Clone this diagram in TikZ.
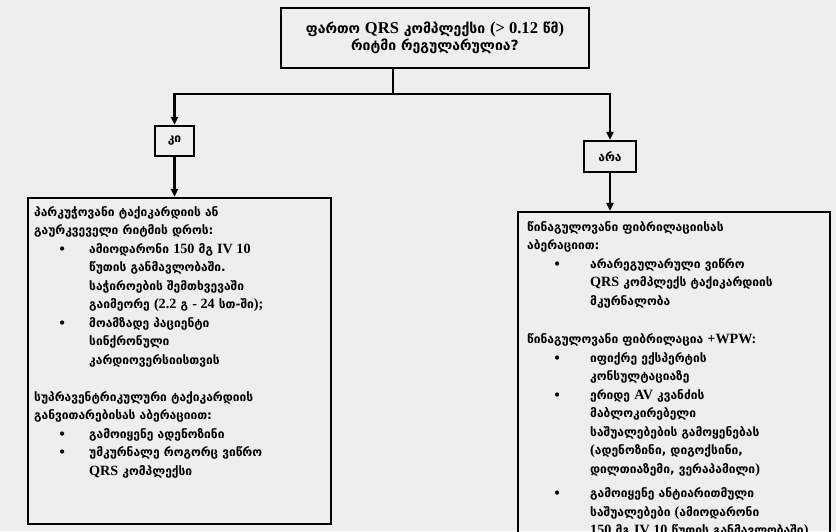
\documentclass[tikz,border=0pt]{standalone}
\usepackage{fontspec}
\setmainfont{DejaVu Sans}
\newfontfamily\latfont[Scale=1.18]{Liberation Serif}
\usetikzlibrary{arrows.meta}
\newcommand\latn[1]{{\latfont\bfseries #1}}
\newcommand\bl[1]{\hspace*{#1}\makebox[0pt][c]{\large\textbullet}}
\definecolor{paper}{RGB}{238,238,236}

\begin{document}
\begin{tikzpicture}[x=1pt,y=-1pt,
  box/.style={draw=black, line width=2.2pt, inner sep=0pt},
  txt/.style={font=\bfseries\fontsize{12}{18.5}\selectfont, align=left, inner sep=0pt, anchor=north west},
  link/.style={line width=2.2pt, -{Triangle[length=8pt,width=7pt]}},
  wire/.style={line width=2.2pt},
  ]
\fill[paper] (0,0) rectangle (836,531);
\useasboundingbox (0,0) rectangle (836,531);
\clip (0,0) rectangle (836,531);

% question and answers
\node[box, minimum width=308pt, minimum height=60pt, align=center,
      font=\bfseries\fontsize{14}{17.5}\selectfont] (q) at (435,38)
  {ფართო \latn{QRS} კომპლექსი \latn{(> 0.12} წმ\latn{)}\\რიტმი რეგულარულია?};
\node[box, minimum width=39pt, minimum height=30pt, font=\bfseries\fontsize{12}{13}\selectfont] (yes) at (174.5,141) {კი};
\node[box, minimum width=52pt, minimum height=31pt, font=\bfseries\fontsize{12}{13}\selectfont] (no) at (610,156.5) {არა};

% action boxes
\node[box, minimum width=303pt, minimum height=326pt] (lbox) at (179.5,361) {};
\node[box, minimum width=312pt, minimum height=348pt] (rbox) at (674,386) {};

% connectors
\coordinate (split) at (393,94);
\draw[wire] (q.south -| split) -- (split);
\draw[link] (split) -| (yes);
\draw[link] (split) -| (no);
\draw[link] (yes.south) -- (yes.south |- lbox.north);
\draw[link] (no.south) -- (no.south |- rbox.north);

% left box text
\node[txt] (ltext) at (34,206) {%
პარკუჭოვანი ტაქიკარდიის ან\\
გაურკვეველი რიტმის დროს:\\
\bl{28pt}\hspace*{27pt}ამიოდარონი \latn{150} მგ \latn{IV 10}\\
\hspace*{55pt}წუთის განმავლობაში.\\
\hspace*{55pt}საჭიროების შემთხვევაში\\
\hspace*{55pt}გაიმეორე \latn{(2.2} გ \latn{- 24} სთ-ში\latn{);}\\
\bl{28pt}\hspace*{27pt}მოამზადე პაციენტი\\
\hspace*{55pt}სინქრონული\\
\hspace*{55pt}კარდიოვერსიისთვის\\[18.5pt]
სუპრავენტრიკულური ტაქიკარდიის\\
განვითარებისას აბერაციით:\\
\bl{28pt}\hspace*{27pt}გამოიყენე ადენოზინი\\
\bl{28pt}\hspace*{27pt}უმკურნალე როგორც ვიწრო\\
\hspace*{55pt}\latn{QRS} კომპლექსი};

% right box text
\node[txt] (rtext) at (527,221) {%
წინაგულოვანი ფიბრილაციისას\\
აბერაციით:\\
\bl{30pt}\hspace*{33pt}არარეგულარული ვიწრო\\
\hspace*{63pt}\latn{QRS} კომპლექს ტაქიკარდიის\\
\hspace*{63pt}მკურნალობა\\[20pt]
წინაგულოვანი ფიბრილაცია \latn{+WPW:}\\
\bl{30pt}\hspace*{33pt}იფიქრე ექსპერტის\\
\hspace*{63pt}კონსულტაციაზე\\
\bl{30pt}\hspace*{33pt}ერიდე \latn{AV} კვანძის\\
\hspace*{63pt}მაბლოკირებელი\\
\hspace*{63pt}საშუალებების გამოყენებას\\
\hspace*{63pt}\latn{(}ადენოზინი, დიგოქსინი,\\
\hspace*{63pt}დილთიაზემი, ვერაპამილი\latn{)}\\[6pt]
\bl{30pt}\hspace*{33pt}გამოიყენე ანტიარითმული\\
\hspace*{63pt}საშუალებები \latn{(}ამიოდარონი\\
\hspace*{63pt}\latn{150} მგ \latn{IV 10} წუთის განმავლობაში\latn{)}};
\end{tikzpicture}
\end{document}
